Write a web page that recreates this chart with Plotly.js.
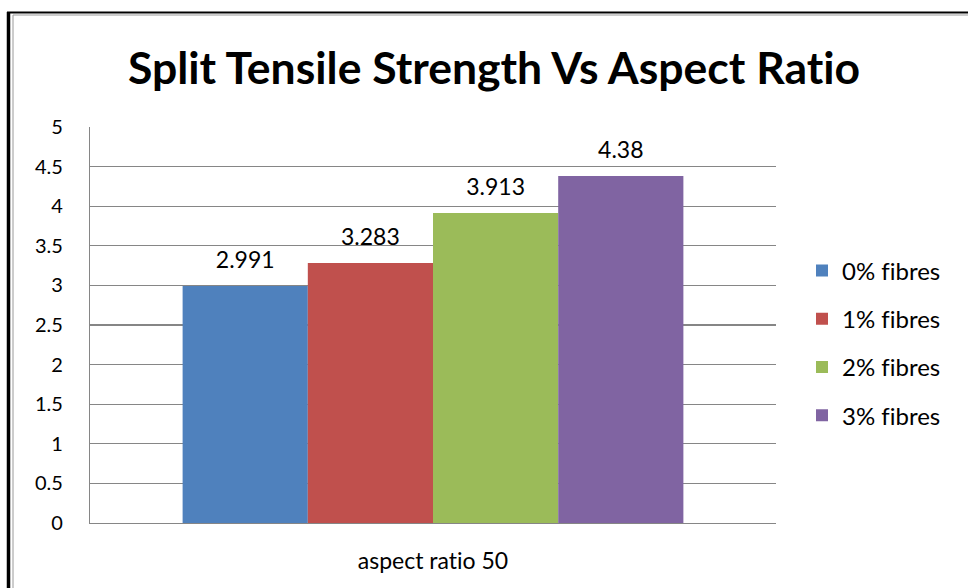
<!DOCTYPE html>
<html>
<head>
<meta charset="utf-8">
<script src="https://cdn.plot.ly/plotly-3.0.1.min.js"></script>
<style>html,body{margin:0;padding:0;background:#fff;}#chart{width:968px;height:588px;}
#chart text{font-variant-ligatures:none;font-feature-settings:"liga" 0,"clig" 0;}</style>
</head>
<body>
<div id="chart"></div>
<script>
const categories = ["aspect ratio 50"];
const seriesNames = ["0% fibres", "1% fibres", "2% fibres", "3% fibres"];
const seriesValues = [[2.991], [3.283], [3.913], [4.38]];
const seriesLabels = [["2.991"], ["3.283"], ["3.913"], ["4.38"]];
const colors = ["#4F81BD", "#C0504D", "#9BBB59", "#8064A2"];
const yTicks = [0, 0.5, 1, 1.5, 2, 2.5, 3, 3.5, 4, 4.5, 5];
const yTickText = ["0", "0.5", "1", "1.5", "2", "2.5", "3", "3.5", "4", "4.5", "5"];

const FONT = "Lato, 'Open Sans', sans-serif";
const W = 968, H = 588, L = 90, R = 192, T = 127, B = 65;
const pw = W - L - R, ph = H - T - B;
const px = v => (v - L) / pw;
const py = v => (H - B - v) / ph;

const traces = seriesNames.map((name, i) => ({
  type: "bar",
  name: name,
  x: categories,
  y: seriesValues[i],
  text: seriesLabels[i],
  texttemplate: "<span style='font-size:23px'>%{text}</span><br><span style='font-size:6px'> </span>",
  textposition: "outside",
  textfont: {family: FONT, size: 10.5, color: "#000"},
  cliponaxis: false,
  marker: {color: colors[i], line: {width: 0}},
  legendgroup: "g" + i,
  hoverinfo: "skip"
}));

const layout = {
  width: W, height: H,
  margin: {l: L, r: R, t: T, b: B},
  paper_bgcolor: "#fff", plot_bgcolor: "#fff",
  font: {family: FONT, color: "#000"},
  title: {text: "<b>Split Tensile Strength Vs Aspect Ratio</b>", font: {family: FONT, size: 44.5, color: "#000"},
          x: 494 / W, xref: "container", xanchor: "center", y: 1 - 68 / H, yanchor: "middle", yref: "container"},
  barmode: "group",
  bargap: 0.27,
  bargroupgap: 0,
  xaxis: {
    showgrid: false, showline: true, linecolor: "#868686", linewidth: 1.2,
    ticks: "", tickfont: {family: FONT, size: 23, color: "#000"}, ticklabelstandoff: 17,
    fixedrange: true
  },
  yaxis: {
    range: [0, 5], tickvals: yTicks, ticktext: yTickText,
    showgrid: true, gridcolor: "#868686", gridwidth: 1.2,
    showline: true, linecolor: "#868686", linewidth: 1.2,
    zeroline: false, ticks: "", tickfont: {family: FONT, size: 20, color: "#000"},
    ticklabelstandoff: 22, fixedrange: true
  },
  showlegend: true,
  legend: {
    x: px(802), xanchor: "left", y: py(343), yanchor: "middle",
    font: {family: FONT, size: 24, color: "#000"},
    traceorder: "grouped", tracegroupgap: 14,
    itemwidth: 30, bgcolor: "rgba(0,0,0,0)"
  },
  shapes: [
    {type: "line", xref: "paper", yref: "paper", x0: px(7), x1: px(968), y0: py(12.5), y1: py(12.5), line: {color: "#000", width: 2}},
    {type: "line", xref: "paper", yref: "paper", x0: px(8.5), x1: px(8.5), y0: py(12), y1: py(588), line: {color: "#000", width: 3.5}},
    {type: "line", xref: "paper", yref: "paper", x0: px(13), x1: px(968), y0: py(15), y1: py(15), line: {color: "#9a9a9a", width: 1}},
    {type: "line", xref: "paper", yref: "paper", x0: px(13), x1: px(13), y0: py(15), y1: py(588), line: {color: "#9a9a9a", width: 1}}
  ]
};

Plotly.newPlot("chart", traces, layout, {staticPlot: true, displayModeBar: false});
</script>
</body>
</html>
